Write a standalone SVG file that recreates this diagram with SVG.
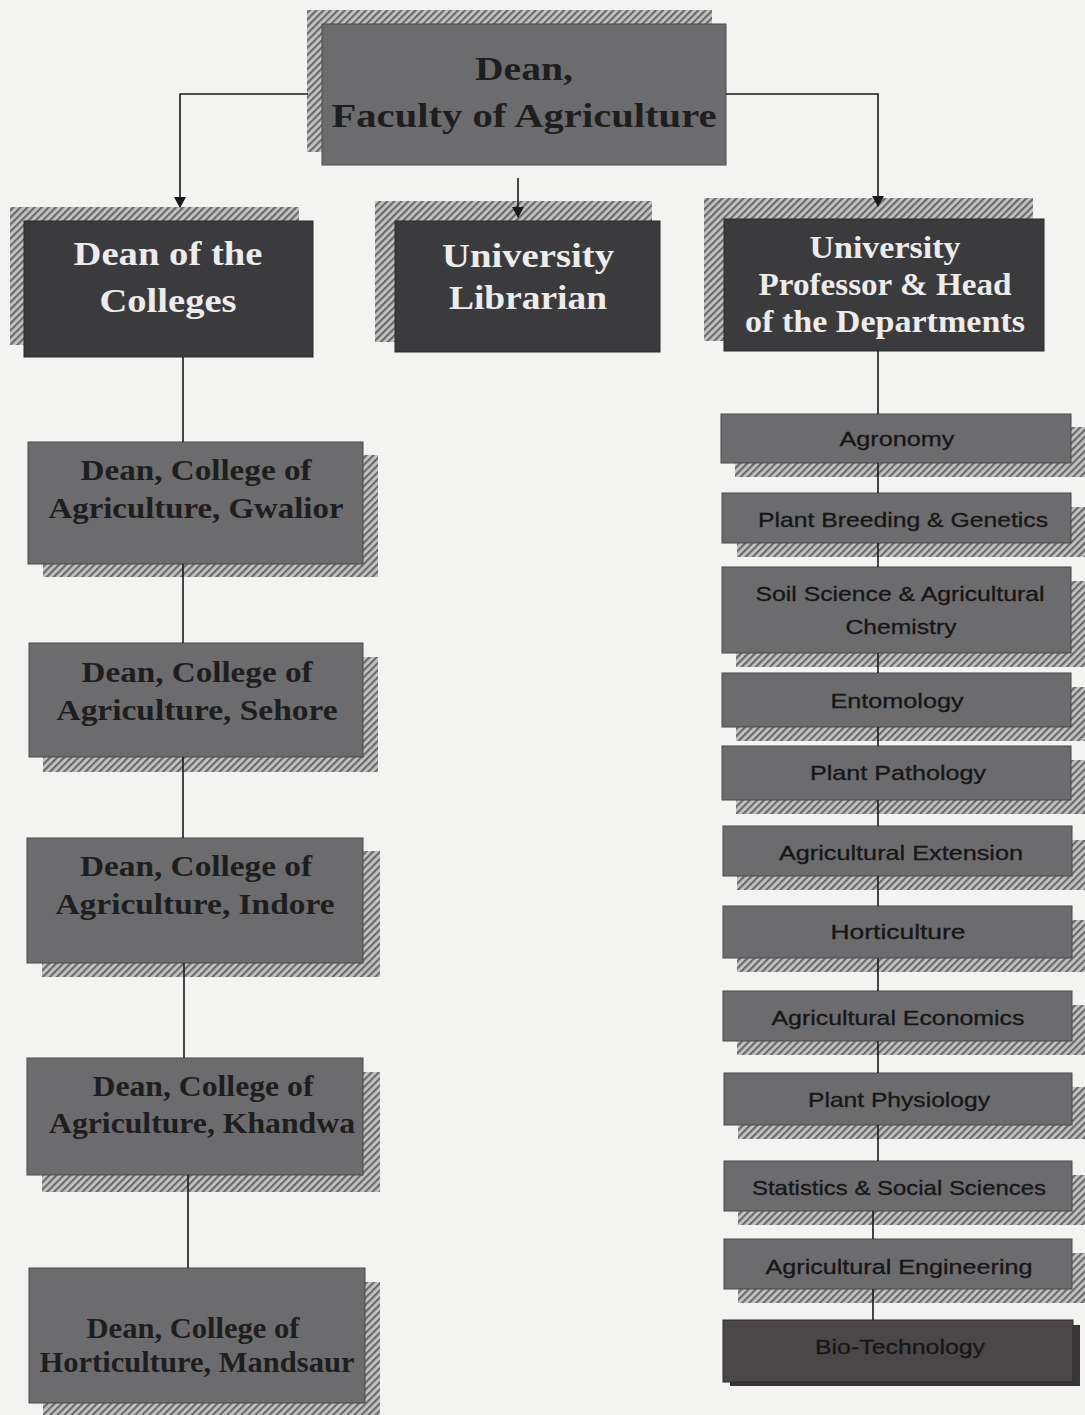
<svg xmlns="http://www.w3.org/2000/svg" width="1085" height="1415" viewBox="0 0 1085 1415">
<defs>
<pattern id="hatch" width="5" height="5" patternUnits="userSpaceOnUse" patternTransform="rotate(45)">
<rect width="5" height="5" fill="#c4c4c4"/>
<rect width="2.2" height="5" fill="#6a6a6a"/>
</pattern>
<marker id="arr" markerWidth="12" markerHeight="12" refX="10" refY="6" orient="auto" markerUnits="userSpaceOnUse">
<path d="M0,0 L11,6 L0,12 Z" fill="#1a1a1a"/>
</marker>
<style>
.sh{fill:url(#hatch)}
.mid{fill:#6c6b6d;stroke:#4a4a4a;stroke-width:1}
.dark{fill:#3b3a3d;stroke:#2a2a2a;stroke-width:1}
.bio{fill:#4b4748;stroke:#2a2a2a;stroke-width:1}
.st{fill:#1e1e1e;font-family:"Liberation Serif","DejaVu Serif",serif;font-weight:bold;text-anchor:middle}
.sw{fill:#ececec;font-family:"Liberation Serif","DejaVu Serif",serif;font-weight:bold;text-anchor:middle}
.dt{fill:#161616;font-family:"Liberation Sans","DejaVu Sans",sans-serif;font-size:21px;text-anchor:middle;stroke:#161616;stroke-width:0.3}
.ln{stroke:#1a1a1a;stroke-width:1.6;fill:none}
</style>
</defs>
<rect width="1085" height="1415" fill="#f3f3f2"/>

<g id="dean-faculty">
<rect class="sh" x="307" y="10" width="405" height="142"/>
<rect class="mid" x="322" y="24" width="404" height="141"/>
<text class="st" font-size="34" x="524" y="80" textLength="98" lengthAdjust="spacingAndGlyphs">Dean,</text>
<text class="st" font-size="34" x="524" y="127" textLength="385" lengthAdjust="spacingAndGlyphs">Faculty of Agriculture</text>
</g>

<g id="dean-colleges">
<rect class="sh" x="10" y="207" width="289" height="138"/>
<rect class="dark" x="24" y="221" width="289" height="136"/>
<text class="sw" font-size="34" x="168" y="265" textLength="189" lengthAdjust="spacingAndGlyphs">Dean of the</text>
<text class="sw" font-size="34" x="168" y="312" textLength="137" lengthAdjust="spacingAndGlyphs">Colleges</text>
</g>

<g id="librarian">
<rect class="sh" x="375" y="201" width="277" height="141"/>
<rect class="dark" x="395" y="221" width="265" height="131"/>
<text class="sw" font-size="34" x="528" y="267" textLength="172" lengthAdjust="spacingAndGlyphs">University</text>
<text class="sw" font-size="34" x="528" y="309" textLength="158" lengthAdjust="spacingAndGlyphs">Librarian</text>
</g>

<g id="professor-head">
<rect class="sh" x="704" y="198" width="329" height="143"/>
<rect class="dark" x="724" y="219" width="320" height="132"/>
<text class="sw" font-size="31" x="885" y="258" textLength="151" lengthAdjust="spacingAndGlyphs">University</text>
<text class="sw" font-size="31" x="885" y="295" textLength="253" lengthAdjust="spacingAndGlyphs">Professor &amp; Head</text>
<text class="sw" font-size="31" x="885" y="332" textLength="280" lengthAdjust="spacingAndGlyphs">of the Departments</text>
</g>

<g id="college-gwalior">
<rect class="sh" x="43" y="455" width="335" height="122"/>
<rect class="mid" x="28" y="442" width="335" height="122"/>
<text class="st" font-size="29" x="196" y="480" textLength="231" lengthAdjust="spacingAndGlyphs">Dean, College of</text>
<text class="st" font-size="29" x="196" y="518" textLength="295" lengthAdjust="spacingAndGlyphs">Agriculture, Gwalior</text>
</g>

<g id="college-sehore">
<rect class="sh" x="43" y="657" width="335" height="115"/>
<rect class="mid" x="29" y="643" width="334" height="114"/>
<text class="st" font-size="29" x="197" y="682" textLength="231" lengthAdjust="spacingAndGlyphs">Dean, College of</text>
<text class="st" font-size="29" x="197" y="720" textLength="281" lengthAdjust="spacingAndGlyphs">Agriculture, Sehore</text>
</g>

<g id="college-indore">
<rect class="sh" x="42" y="851" width="338" height="126"/>
<rect class="mid" x="27" y="838" width="336" height="125"/>
<text class="st" font-size="29" x="196" y="876" textLength="232" lengthAdjust="spacingAndGlyphs">Dean, College of</text>
<text class="st" font-size="29" x="195" y="914" textLength="279" lengthAdjust="spacingAndGlyphs">Agriculture, Indore</text>
</g>

<g id="college-khandwa">
<rect class="sh" x="42" y="1072" width="338" height="120"/>
<rect class="mid" x="27" y="1058" width="336" height="117"/>
<text class="st" font-size="29" x="203" y="1096" textLength="221" lengthAdjust="spacingAndGlyphs">Dean, College of</text>
<text class="st" font-size="29" x="202" y="1133" textLength="306" lengthAdjust="spacingAndGlyphs">Agriculture, Khandwa</text>
</g>

<g id="college-mandsaur">
<rect class="sh" x="43" y="1282" width="337" height="133"/>
<rect class="mid" x="29" y="1268" width="336" height="135"/>
<text class="st" font-size="29" x="193" y="1338" textLength="213" lengthAdjust="spacingAndGlyphs">Dean, College of</text>
<text class="st" font-size="29" x="197" y="1372" textLength="315" lengthAdjust="spacingAndGlyphs">Horticulture, Mandsaur</text>
</g>

<g id="dept-agronomy">
<rect class="sh" x="735" y="427" width="350" height="50"/>
<rect class="mid" x="721" y="414" width="350" height="49"/>
<text class="dt" x="897" y="446" textLength="115" lengthAdjust="spacingAndGlyphs">Agronomy</text>
</g>

<g id="dept-plant-breeding">
<rect class="sh" x="737" y="507" width="348" height="50"/>
<rect class="mid" x="722" y="493" width="349" height="50"/>
<text class="dt" x="903" y="527" textLength="290" lengthAdjust="spacingAndGlyphs">Plant Breeding &amp; Genetics</text>
</g>

<g id="dept-soil-science">
<rect class="sh" x="736" y="581" width="349" height="86"/>
<rect class="mid" x="722" y="567" width="349" height="86"/>
<text class="dt" x="900" y="601" textLength="289" lengthAdjust="spacingAndGlyphs">Soil Science &amp; Agricultural</text>
<text class="dt" x="901" y="634" textLength="111" lengthAdjust="spacingAndGlyphs">Chemistry</text>
</g>

<g id="dept-entomology">
<rect class="sh" x="736" y="687" width="349" height="54"/>
<rect class="mid" x="722" y="673" width="349" height="54"/>
<text class="dt" x="897" y="708" textLength="133" lengthAdjust="spacingAndGlyphs">Entomology</text>
</g>

<g id="dept-plant-pathology">
<rect class="sh" x="736" y="760" width="349" height="54"/>
<rect class="mid" x="722" y="746" width="349" height="54"/>
<text class="dt" x="898" y="780" textLength="176" lengthAdjust="spacingAndGlyphs">Plant Pathology</text>
</g>

<g id="dept-agri-extension">
<rect class="sh" x="737" y="840" width="348" height="50"/>
<rect class="mid" x="723" y="826" width="349" height="50"/>
<text class="dt" x="901" y="860" textLength="244" lengthAdjust="spacingAndGlyphs">Agricultural Extension</text>
</g>

<g id="dept-horticulture">
<rect class="sh" x="737" y="920" width="348" height="52"/>
<rect class="mid" x="723" y="906" width="349" height="52"/>
<text class="dt" x="898" y="939" textLength="135" lengthAdjust="spacingAndGlyphs">Horticulture</text>
</g>

<g id="dept-agri-economics">
<rect class="sh" x="737" y="1005" width="348" height="50"/>
<rect class="mid" x="723" y="991" width="349" height="50"/>
<text class="dt" x="898" y="1025" textLength="253" lengthAdjust="spacingAndGlyphs">Agricultural Economics</text>
</g>

<g id="dept-plant-physiology">
<rect class="sh" x="738" y="1087" width="347" height="52"/>
<rect class="mid" x="724" y="1073" width="348" height="52"/>
<text class="dt" x="899" y="1107" textLength="182" lengthAdjust="spacingAndGlyphs">Plant Physiology</text>
</g>

<g id="dept-statistics">
<rect class="sh" x="738" y="1175" width="347" height="50"/>
<rect class="mid" x="724" y="1161" width="348" height="50"/>
<text class="dt" x="899" y="1195" textLength="294" lengthAdjust="spacingAndGlyphs">Statistics &amp; Social Sciences</text>
</g>

<g id="dept-agri-engineering">
<rect class="sh" x="738" y="1253" width="347" height="50"/>
<rect class="mid" x="724" y="1239" width="348" height="50"/>
<text class="dt" x="899" y="1274" textLength="267" lengthAdjust="spacingAndGlyphs">Agricultural Engineering</text>
</g>

<g id="dept-biotechnology">
<rect x="730" y="1325" width="350" height="61" fill="#3a3637"/>
<rect class="bio" x="723" y="1320" width="350" height="62"/>
<text class="dt" x="900" y="1354" textLength="170" lengthAdjust="spacingAndGlyphs">Bio-Technology</text>
</g>

<g id="connectors">
<path class="ln" d="M308,94 H180 V207" marker-end="url(#arr)"/>
<path class="ln" d="M726,94 H878 V206" marker-end="url(#arr)"/>
<path class="ln" d="M518,178 V217" marker-end="url(#arr)"/>
<path class="ln" d="M183,357 V442 M183,564 V643 M183,757 V838 M184,963 V1058 M188,1175 V1268"/>
<path class="ln" d="M878,351 V414 M878,463 V493 M878,543 V567 M878,653 V673 M878,727 V746 M878,800 V826 M878,876 V906 M878,958 V991 M878,1041 V1073 M878,1125 V1161 M873,1211 V1239 M873,1289 V1320"/>
</g>
</svg>
